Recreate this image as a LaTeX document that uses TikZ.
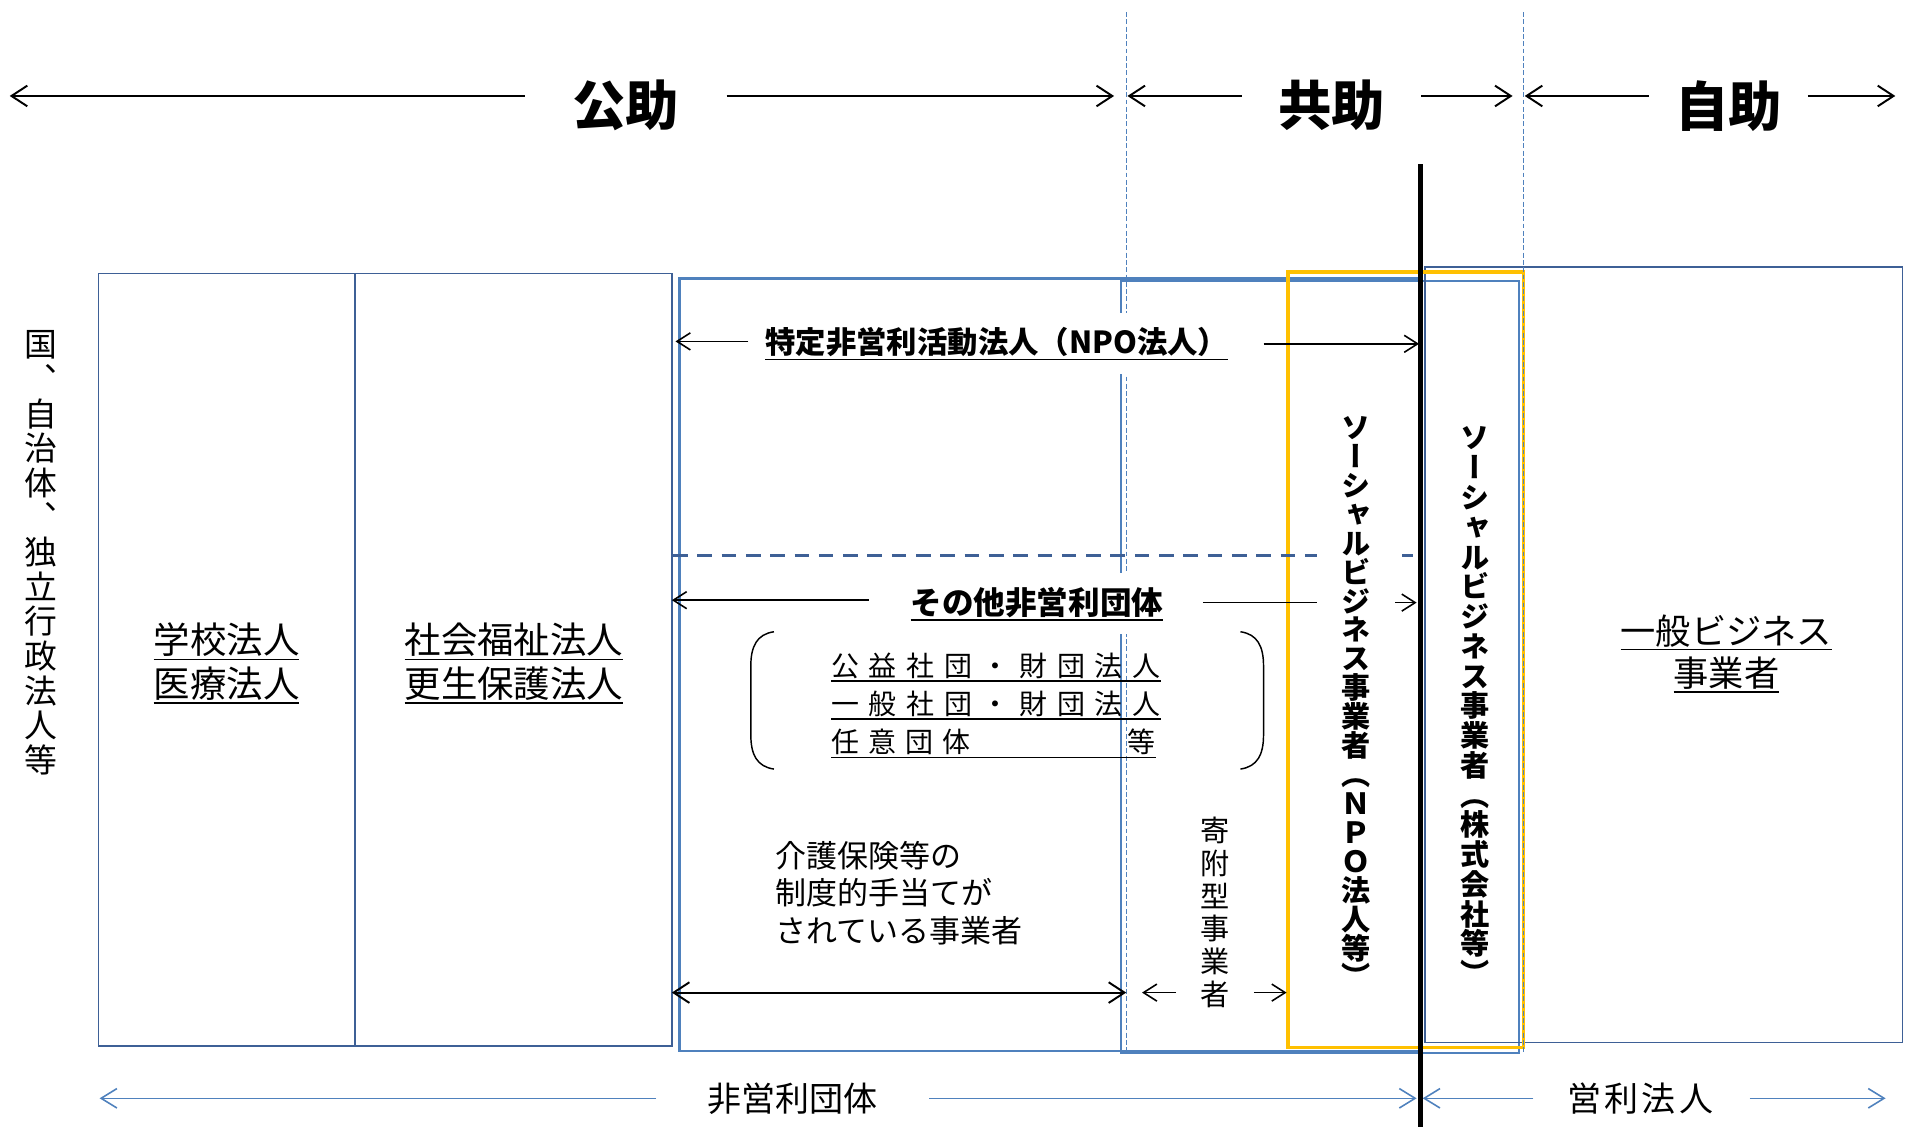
\documentclass[tikz,border=0pt]{standalone}
\usepackage{fontspec}
\setmainfont{Noto Sans CJK JP}
\newfontfamily\vjp{Noto Sans CJK JP}[RawFeature=+vert]
\usetikzlibrary{arrows.meta}
\definecolor{dkb}{HTML}{3E6096}
\definecolor{ltb}{HTML}{4F81BD}
\definecolor{org}{HTML}{FFC000}
\makeatletter
\newcommand\vstack[2]{\vbox{\baselineskip=#1\relax\lineskiplimit=-\maxdimen\lineskip=0pt\relax
  \@tfor\vs@c:=#2\do{\hbox to 1em{\hss\vs@c\hss}}}}
\makeatother
\newcommand\ul[1]{\vtop{\hbox{#1}\kern1.5pt\hrule height 1pt}}
\newcommand\fsz[2]{\fontsize{#1}{#2}\selectfont}
\newcommand\gp{\hfil}
\begin{document}
\begin{tikzpicture}[x=1pt,y=-1pt,
  dkbox/.style={draw=dkb,line width=1.3pt},
  ltbox/.style={draw=ltb,line width=2.3pt},
  ltboxb/.style={draw=ltb,line width=1.5pt},
  orbox/.style={draw=org,line width=2.8pt},
  vdash/.style={ltb,line width=0.8pt,dash pattern=on 4pt off 2pt},
  hdash/.style={dkb,line width=2.6pt,dash pattern=on 12pt off 8pt},
  bigarr/.style={line width=1.6pt,-{Straight Barb[length=13pt,width=17pt]}},
  thinarr/.style={line width=1.3pt,-{Straight Barb[length=11pt,width=14pt]}},
  bluarr/.style={ltb,line width=1.3pt,-{Straight Barb[length=13pt,width=16pt]}},
  title/.style={font=\bfseries\fsz{44}{44},inner sep=0pt},
  lab/.style={inner sep=0pt},
]
\useasboundingbox (0,0) rectangle (1568,928);

% boxes
\draw[dkbox] (81,225) rectangle (292,861);
\draw[dkbox] (292,225) rectangle (553,861);
\draw[ltbox] (559,229) rectangle (1168,865);
\draw[ltboxb] (923,231) rectangle (1250,867);
\draw[dkbox] (1173,220) rectangle (1566,858);
\draw[orbox] (1060,224) rectangle (1254,862);

% dashed lines
\draw[vdash] (927,10) -- (927,866);
\draw[vdash] (1254,10) -- (1254,866);
\draw[hdash] (554,457.5) -- (1163,457.5);

% top titles and arrows
\node[title] (kojo) at (515,87) {公助};
\node[title] (kyojo) at (1096,87) {共助};
\node[title] (jijo) at (1423,87) {自助};
\coordinate (kL) at (8,79); \coordinate (kA) at (432,79);
\coordinate (kB) at (598,79); \coordinate (kE) at (917,79);
\coordinate (yL) at (928,79); \coordinate (yA) at (1022,79);
\coordinate (yB) at (1170,79); \coordinate (yE) at (1245,79);
\coordinate (jL) at (1255,79); \coordinate (jA) at (1357,79);
\coordinate (jB) at (1488,79); \coordinate (jE) at (1560,79);
\draw[bigarr] (kA) -- (kL); \draw[bigarr] (kB) -- (kE);
\draw[bigarr] (yA) -- (yL); \draw[bigarr] (yB) -- (yE);
\draw[bigarr] (jA) -- (jL); \draw[bigarr] (jB) -- (jE);

% left vertical label
\node[lab,font=\vjp\fsz{27}{27}] (kuni) at (34,455) {\vstack{28.5pt}{国、自治体、独立行政法人等}};

% box labels
\node[lab,font=\fsz{30}{36},align=center] (gakko) at (186.5,546) {\ul{学校法人}\\\ul{医療法人}};
\node[lab,font=\fsz{30}{36},align=center] (fukushi) at (423,546) {\ul{社会福祉法人}\\\ul{更生保護法人}};
\node[lab,font=\fsz{29}{35},align=center] (ippan) at (1421,538) {\ul{一般ビジネス}\\\ul{事業者}};

% NPO label
\node[lab,fill=white,inner xsep=4pt,minimum height=50pt,font=\bfseries\fsz{25}{25}] (tokutei) at (820.5,283) {\ul{特定非営利活動法人（NPO法人）}};
\coordinate (t0) at (556,281); \coordinate (t1) at (616,281);
\coordinate (t2) at (1040,283); \coordinate (t3) at (1168,283);
\draw[thinarr] (t1) -- (t0); \draw[thinarr] (t2) -- (t3);

% other non-profit label
\node[lab,fill=white,inner xsep=4pt,minimum height=50pt,font=\bfseries\fsz{26}{26}] (sonota) at (853.5,497) {\ul{その他非営利団体}};
\coordinate (s0) at (553,494); \coordinate (s1) at (715,494);
\coordinate (s2) at (990,496); \coordinate (s3) at (1166,496);
\draw[thinarr] (s1) -- (s0); \draw[thinarr] (s2) -- (s3);

% brace list
\draw[line width=1.2pt] (637,520) .. controls (623,522) and (618,532) .. (618,548) -- (618,605) .. controls (618,621) and (623,631) .. (637,633);
\draw[line width=1.2pt] (1021,520) .. controls (1035,522) and (1040,532) .. (1040,548) -- (1040,605) .. controls (1040,621) and (1035,631) .. (1021,633);
\node[lab,anchor=base west,font=\fsz{23}{23}] (l1) at (684,556.5) {\ul{\makebox[271pt][s]{公\gp{}益\gp{}社\gp{}団\gp{}・\gp{}財\gp{}団\gp{}法\gp{}人}}};
\node[lab,anchor=base west,font=\fsz{23}{23}] (l2) at (684,588) {\ul{\makebox[271pt][s]{一\gp{}般\gp{}社\gp{}団\gp{}・\gp{}財\gp{}団\gp{}法\gp{}人}}};
\node[lab,anchor=base west,font=\fsz{23}{23}] (l3) at (684,619.5) {\ul{\makebox[267pt][s]{任\gp{}意\gp{}団\gp{}体\gp{}\hphantom{・}\gp{}\hphantom{財}\gp{}\hphantom{団}\gp{}\hphantom{法}\gp{}等}}};

% care insurance text
\node[lab,anchor=west,align=left,font=\fsz{25.5}{31}] (kaigo) at (638,735) {介護保険等の\\制度的手当てが\\されている事業者};

% donation type
\node[lab,font=\vjp\fsz{24}{24}] (kifu) at (1000,751) {\vstack{27pt}{寄附型事業者}};
\coordinate (b0) at (553,817); \coordinate (b1) at (927,817);
\draw[line width=1.6pt,{Straight Barb[length=13pt,width=17pt]}-{Straight Barb[length=13pt,width=17pt]}] (b0) -- (b1);
\coordinate (f0) at (940,817); \coordinate (f1) at (968,817);
\coordinate (f2) at (1032,817); \coordinate (f3) at (1059,817);
\draw[thinarr] (f1) -- (f0); \draw[thinarr] (f2) -- (f3);

% social business vertical labels
\node[lab,fill=white,inner xsep=20pt,font=\vjp\bfseries\fsz{24}{24}] (snpo) at (1116,578) {\vstack{23.8pt}{ソーシャルビジネス事業者（ＮＰＯ法人等）}};
\node[lab,font=\vjp\bfseries\fsz{24}{24}] (skk) at (1214,581) {\vstack{24.5pt}{ソーシャルビジネス事業者（株式会社等）}};

% bottom
\node[lab,font=\fsz{28}{28}] (hieiri) at (652,904) {非営利団体};
\node[lab,font=\fsz{28}{28}] (eiri) at (1350,904) {\makebox[120pt][s]{営\gp{}利\gp{}法\gp{}人}};
\coordinate (h0) at (82,904); \coordinate (h1) at (540,904);
\coordinate (h2) at (765,904); \coordinate (h3) at (1166,904);
\coordinate (e0) at (1171,904); \coordinate (e1) at (1262,904);
\coordinate (e2) at (1440,904); \coordinate (e3) at (1552,904);
\draw[bluarr] (h1) -- (h0); \draw[bluarr] (h2) -- (h3);
\draw[bluarr] (e1) -- (e0); \draw[bluarr] (e2) -- (e3);

% black divider
\coordinate (d0) at (1169,135); \coordinate (d1) at (1169,928);
\draw[line width=4pt] (d0) -- (d1);
\end{tikzpicture}
\end{document}
